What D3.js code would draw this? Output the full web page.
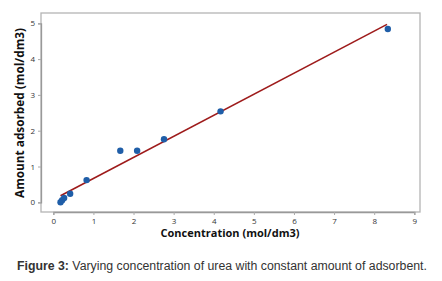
<!DOCTYPE html>
<html><head><meta charset="utf-8">
<script src="https://cdn.jsdelivr.net/npm/d3@7"></script>
<style>body{margin:0;background:#fff}svg{display:block}</style>
</head><body>
<svg id="c" width="442" height="281"></svg>
<script>
const concentration = [0.18, 0.22, 0.27, 0.42, 0.83, 1.67, 2.09, 2.76, 4.17, 8.34];
const adsorbed      = [0.00, 0.06, 0.12, 0.24, 0.62, 1.44, 1.44, 1.76, 2.54, 4.84];
const fitX = [0.18, 8.32];
const fitY = [0.185, 4.97];
const xTicks = [0,1,2,3,4,5,6,7,8,9];
const yTicks = [0,1,2,3,4,5];

const svg = d3.select("#c");
const frame = {l:41, r:420, t:13, b:212};
const x = d3.scaleLinear().domain([0,9]).range([53.3,414.3]);
const y = d3.scaleLinear().domain([0,5]).range([202.3,23.3]);

svg.append("rect").attr("x",frame.l).attr("y",frame.t)
  .attr("width",frame.r-frame.l).attr("height",frame.b-frame.t)
  .attr("fill","none").attr("stroke","#b4b4b4").attr("stroke-width",1.3);

const xa = svg.append("g").attr("transform",`translate(0,${frame.b})`)
  .call(d3.axisBottom(x).tickValues(xTicks).tickSize(3).tickPadding(3).tickFormat(d3.format("d")));
const ya = svg.append("g").attr("transform",`translate(${frame.l},0)`)
  .call(d3.axisLeft(y).tickValues(yTicks).tickSize(3).tickPadding(3).tickFormat(d3.format("d")));
[xa,ya].forEach(a=>{
  a.select(".domain").attr("stroke","#999").attr("stroke-width",1.3);
  a.selectAll(".tick line").attr("stroke","#aaa");
  a.selectAll("text").attr("font-family","'Open Sans', sans-serif").attr("font-size",8).attr("fill","#333");
});

svg.append("line").attr("x1",x(fitX[0])).attr("y1",y(fitY[0]))
  .attr("x2",x(fitX[1])).attr("y2",y(fitY[1]))
  .attr("stroke","#9e1b1b").attr("stroke-width",1.6);

svg.append("g").selectAll("circle").data(concentration).join("circle")
  .attr("cx",d=>x(d)).attr("cy",(d,i)=>y(adsorbed[i])).attr("r",3.2)
  .attr("fill","#1f5ea8");

svg.append("text").attr("x",230).attr("y",237).attr("text-anchor","middle")
  .attr("font-family","'Open Sans', sans-serif").attr("font-weight","bold")
  .attr("font-size",11).attr("fill","#111").text("Concentration (mol/dm3)");
svg.append("text").attr("transform","translate(24,113) rotate(-90)").attr("text-anchor","middle")
  .attr("font-family","'Open Sans', sans-serif").attr("font-weight","bold")
  .attr("font-size",11.8).attr("fill","#111").text("Amount adsorbed (mol/dm3)");

const cap = svg.append("text").attr("x",17).attr("y",270)
  .attr("font-family","'Liberation Sans', Arial, sans-serif").attr("font-size",12.3).attr("fill","#333");
cap.append("tspan").attr("font-weight","bold").text("Figure 3:");
cap.append("tspan").text(" Varying concentration of urea with constant amount of adsorbent.");
</script>
</body></html>
